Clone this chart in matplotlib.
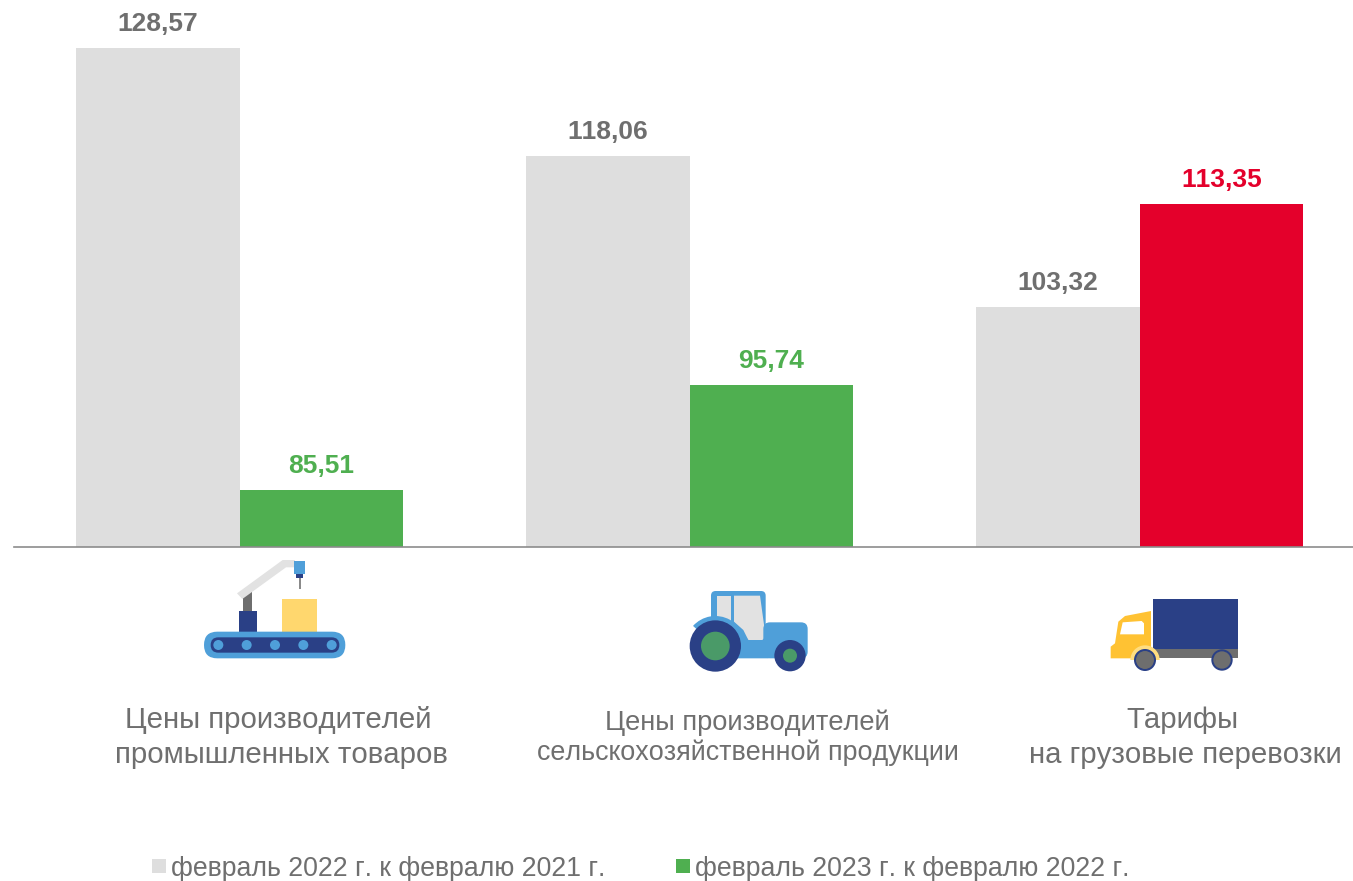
import matplotlib
matplotlib.use("Agg")
import matplotlib.pyplot as plt
import numpy as np
from matplotlib.patches import Circle, FancyBboxPatch, Polygon, Rectangle, Wedge
from matplotlib.transforms import Affine2D

plt.rcParams['font.family'] = ['Liberation Sans', 'DejaVu Sans']
plt.rcParams['text.kerning_factor'] = 6

categories = ["Цены производителей\nпромышленных товаров",
              "Цены производителей\nсельскохозяйственной продукции",
              "Тарифы\nна грузовые перевозки"]
series_2022 = [128.57, 118.06, 103.32]
series_2023 = [85.51, 95.74, 113.35]
legend_labels = ["февраль 2022 г. к февралю 2021 г.", "февраль 2023 г. к февралю 2022 г."]
base_value = 80

GREY, GREEN, RED = '#DEDEDE', '#4FAF50', '#E4002B'
TXT = '#6F6F6F'
colors_2023 = [GREEN, GREEN, RED]

W, H = 1353, 881
fig = plt.figure(figsize=(W / 100, H / 100), dpi=100, facecolor='white')

# main chart axes
ax = fig.add_axes([14 / W, 1 - 547 / H, (W - 14) / W, 547 / H])
ax.patch.set_visible(False)
x = np.arange(len(categories))
bw = 163.8 / 450
ax.bar(x - bw / 2, series_2022, bw, color=GREY, bottom=0)
ax.bar(x + bw / 2, series_2023, bw, color=colors_2023, bottom=0)
ax.set_xlim((14 - 239.5) / 450, (W - 239.5) / 450)
ax.set_ylim(base_value, base_value + 547 / (499 / (series_2022[0] - base_value)))
for s in ['top', 'right', 'left']:
    ax.spines[s].set_visible(False)
ax.spines['bottom'].set_color('#8C8C8C')
ax.spines['bottom'].set_linewidth(1.2)
ax.set_xticks([])
ax.set_yticks([])
fmt = lambda v: f"{v:.2f}".replace('.', ',')
for i in x:
    ax.annotate(fmt(series_2022[i]), (i - bw / 2, series_2022[i]), xytext=(0, 17.4),
                textcoords='offset points', ha='center', va='center',
                fontsize=19, fontweight='bold', color=TXT)
    ax.annotate(fmt(series_2023[i]), (i + bw / 2, series_2023[i]), xytext=(0, 17.4),
                textcoords='offset points', ha='center', va='center',
                fontsize=19, fontweight='bold', color=colors_2023[i])

# overlay in pixel space for icons, labels, legend
ov = fig.add_axes([0, 0, 1, 1])
ov.set_xlim(0, W)
ov.set_ylim(H, 0)
ov.axis('off')
ov.patch.set_visible(False)

lab_px = [[(278.5, 720, 21.2), (281.5, 755, 21.2)],
          [(747, 723, 19.6), (747.5, 753, 19.4)],
          [(1182, 720, 21.2), (1185, 755, 21.2)]]
for cat, pos in zip(categories, lab_px):
    for line, (px, py, fs) in zip(cat.split('\n'), pos):
        ov.text(px, py, line, ha='center', va='center', fontsize=fs, color=TXT)

for sx, col, tx, lab in zip([152, 676], [GREY, GREEN], [171, 695], legend_labels):
    ov.add_patch(Rectangle((sx, 859), 14, 14, color=col, lw=0))
    ov.text(tx, 868.5, lab, ha='left', va='center', fontsize=19.2, color=TXT)


def group(x0, y0):
    return Affine2D().scale(1 / 3).translate(x0, y0) + ov.transData


BLUE, NAVY = '#4F9FD9', '#2A4086'
LGREY, DGREY = '#E2E2E2', '#6E6E6E'
YEL, AMB = '#FFD76E', '#FFC233'
WGREEN = '#4A9A68'


def rect(t, x0, y0, x1, y1, c):
    ov.add_patch(Rectangle((x0, y0), x1 - x0, y1 - y0, facecolor=c, lw=0, transform=t))


def rrect(t, x0, y0, x1, y1, r, c):
    ov.add_patch(FancyBboxPatch((x0, y0), x1 - x0, y1 - y0, boxstyle=f"round,pad=0,rounding_size={r}",
                                facecolor=c, lw=0, transform=t))


def poly(t, pts, c):
    ov.add_patch(Polygon(pts, closed=True, facecolor=c, lw=0, transform=t))


def circ(t, cx, cy, r, c):
    ov.add_patch(Circle((cx, cy), r, facecolor=c, lw=0, transform=t))


# factory conveyor icon
t = group(190, 550)
rect(t, 160, 122, 187, 182, DGREY)
poly(t, [(141, 130), (278, 30), (315, 30), (315, 52), (288, 52), (157, 147)], LGREY)
rect(t, 148, 182, 200, 245, NAVY)
rect(t, 277, 148, 381, 245, YEL)
rect(t, 313, 32, 345, 72, BLUE)
rect(t, 318, 72, 340, 85, NAVY)
rect(t, 326, 85, 332, 118, '#8A8A8A')
rrect(t, 42, 245, 466, 325, 40, BLUE)
rrect(t, 62, 262, 448, 308, 23, NAVY)
for cx in [85, 170, 255, 340, 425]:
    circ(t, cx, 285, 15, BLUE)

# tractor icon
t = group(675, 580)
rrect(t, 108, 33, 272, 190, 14, BLUE)
rect(t, 125, 47, 168, 125, LGREY)
poly(t, [(177, 47), (255, 47), (272, 170), (262, 180), (220, 180), (205, 150), (177, 125)], LGREY)
rrect(t, 265, 127, 398, 235, 20, BLUE)
poly(t, [(170, 120), (220, 180), (280, 180), (280, 235), (180, 235)], BLUE)
ov.add_patch(Wedge((121, 198), 90, 222, 375, facecolor=BLUE, lw=0, transform=t))
circ(t, 121, 198, 77, NAVY)
circ(t, 121, 198, 43, WGREEN)
circ(t, 345, 227, 47, NAVY)
circ(t, 345, 227, 21, WGREEN)

# truck icon
t = group(1100, 590)
rect(t, 160, 28, 415, 177, NAVY)
rect(t, 160, 177, 415, 205, DGREY)
poly(t, [(153, 63), (75, 78), (55, 95), (45, 160), (32, 170), (32, 205), (153, 205)], AMB)
poly(t, [(68, 97), (125, 93), (132, 100), (132, 133), (60, 133)], 'white')
ov.add_patch(Wedge((135, 210), 44, 180, 360, facecolor='#FFDD80', lw=0, transform=t))
circ(t, 135, 210, 33, NAVY)
circ(t, 135, 210, 27, DGREY)
circ(t, 366, 210, 32, NAVY)
circ(t, 366, 210, 26, DGREY)

fig.savefig('out.png', dpi=100, facecolor='white')
